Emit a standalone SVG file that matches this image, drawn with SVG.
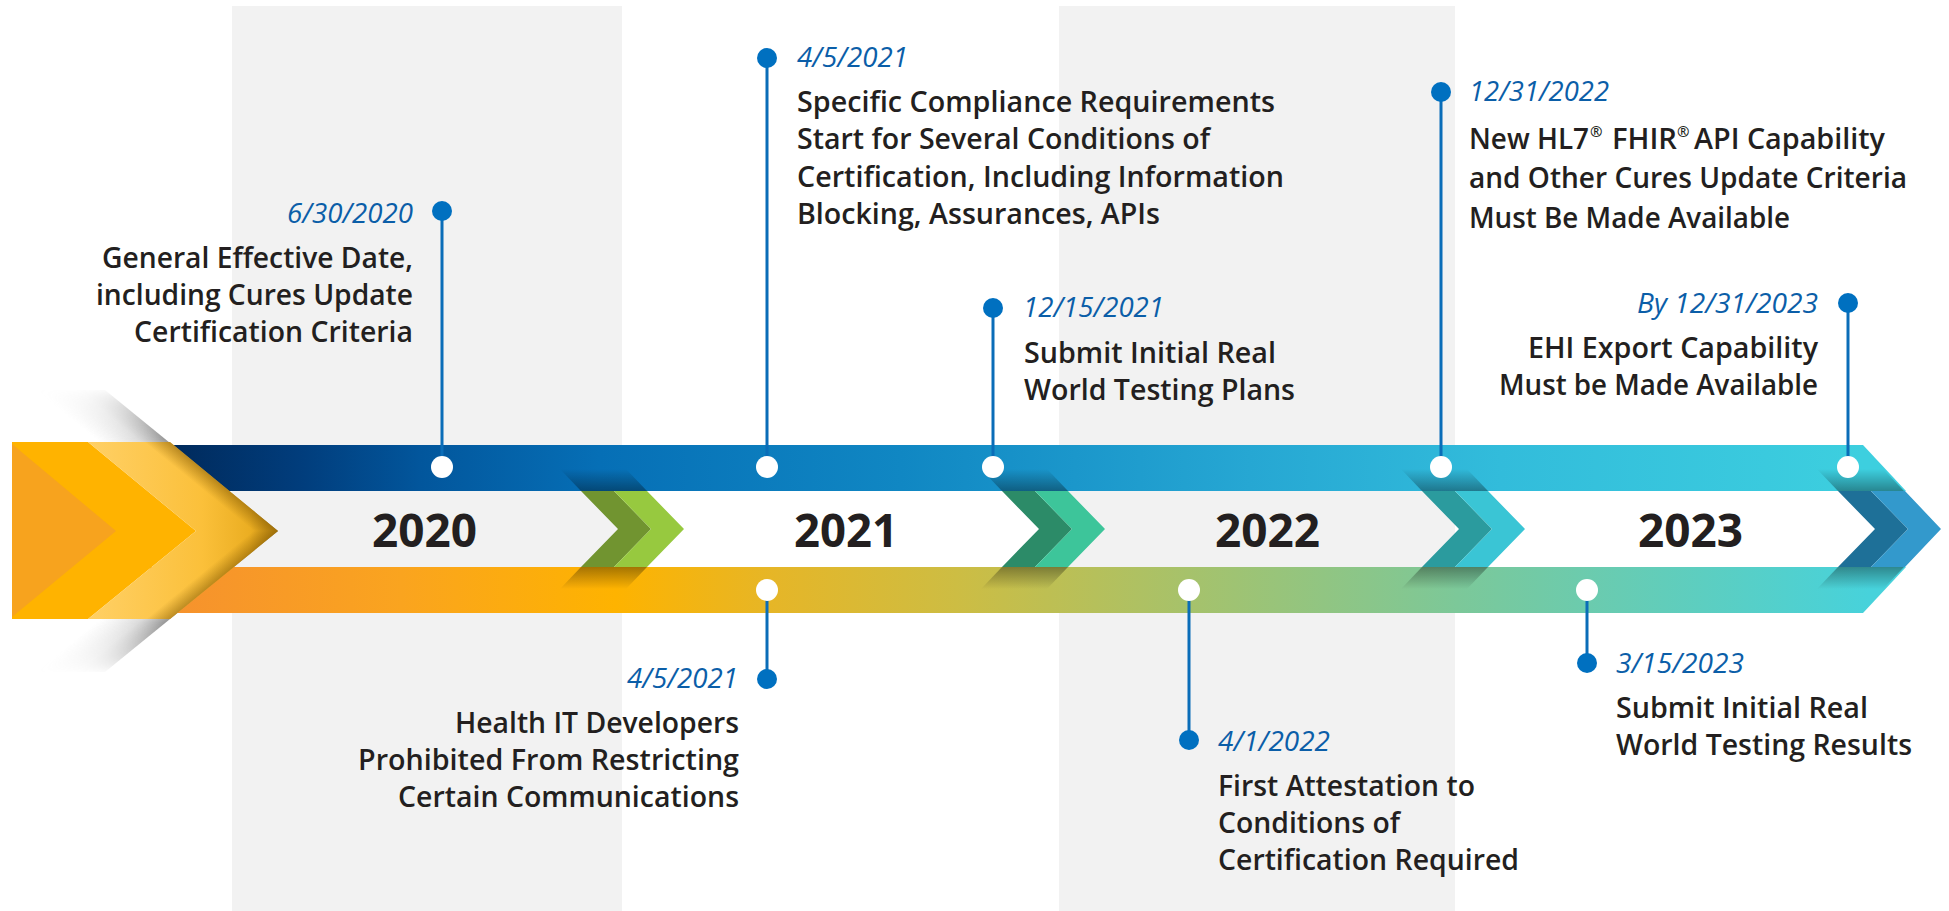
<svg xmlns="http://www.w3.org/2000/svg" width="1949" height="911" viewBox="0 0 1949 911">
<style>
.col{fill:#F2F2F2}
.line{stroke:#0A6DB8;stroke-width:3;fill:none}
.dot{fill:#0070C0}
.hole{fill:#FFFFFF}
.date{font-family:"Open Sans","Noto Sans","Liberation Sans",sans-serif;font-style:italic;font-size:27px;fill:#0B5EA8}
.desc{font-family:"Open Sans","Noto Sans","Liberation Sans",sans-serif;font-weight:600;font-size:29px;fill:#231F20}
.reg{font-family:"Open Sans","Noto Sans","Liberation Sans",sans-serif;font-weight:600;font-size:15px;fill:#231F20}
.year{font-family:"Open Sans","Noto Sans","Liberation Sans",sans-serif;font-weight:700;font-size:46px;fill:#231F20}
</style>
<defs>
<linearGradient id="gTop" gradientUnits="userSpaceOnUse" x1="150" y1="0" x2="1941" y2="0">
<stop offset="0.013" stop-color="#002A5C"/>
<stop offset="0.084" stop-color="#013D7C"/>
<stop offset="0.151" stop-color="#02569C"/>
<stop offset="0.251" stop-color="#066FB6"/>
<stop offset="0.419" stop-color="#1087C3"/>
<stop offset="0.614" stop-color="#26A7D3"/>
<stop offset="0.754" stop-color="#32BCDB"/>
<stop offset="0.956" stop-color="#3DCFDF"/>
</linearGradient>
<linearGradient id="gBot" gradientUnits="userSpaceOnUse" x1="150" y1="0" x2="1941" y2="0">
<stop offset="0.013" stop-color="#F6922D"/>
<stop offset="0.14" stop-color="#FAA41F"/>
<stop offset="0.26" stop-color="#FEB300"/>
<stop offset="0.35" stop-color="#E5B628"/>
<stop offset="0.45" stop-color="#CDBD43"/>
<stop offset="0.58" stop-color="#A6C26B"/>
<stop offset="0.73" stop-color="#7CC899"/>
<stop offset="0.96" stop-color="#47D2DB"/>
</linearGradient>
<linearGradient id="gShU" gradientUnits="userSpaceOnUse" x1="191.5" y1="460.5" x2="163.7" y2="494.6">
<stop offset="0" stop-color="#6A6A6A" stop-opacity="0.7"/>
<stop offset="0.4" stop-color="#8A8A8A" stop-opacity="0.3"/>
<stop offset="1" stop-color="#B0B0B0" stop-opacity="0"/>
</linearGradient>
<linearGradient id="gShL" gradientUnits="userSpaceOnUse" x1="191.5" y1="601.5" x2="163.7" y2="567.4">
<stop offset="0" stop-color="#6A6A6A" stop-opacity="0.7"/>
<stop offset="0.4" stop-color="#8A8A8A" stop-opacity="0.3"/>
<stop offset="1" stop-color="#B0B0B0" stop-opacity="0"/>
</linearGradient>
<linearGradient id="gFade" gradientUnits="userSpaceOnUse" x1="0" y1="388" x2="0" y2="674">
<stop offset="0" stop-color="#fff" stop-opacity="0"/>
<stop offset="0.18" stop-color="#fff" stop-opacity="1"/>
<stop offset="0.82" stop-color="#fff" stop-opacity="1"/>
<stop offset="1" stop-color="#fff" stop-opacity="0"/>
</linearGradient>
<mask id="mShadow" maskUnits="userSpaceOnUse" x="0" y="380" width="300" height="300">
<rect x="0" y="380" width="300" height="300" fill="url(#gFade)"/>
</mask>
<linearGradient id="gLight" gradientUnits="userSpaceOnUse" x1="88" y1="0" x2="278" y2="0">
<stop offset="0" stop-color="#FFD066"/>
<stop offset="0.6" stop-color="#FBC03A"/>
<stop offset="0.85" stop-color="#EBAE22"/>
<stop offset="1" stop-color="#C08A12"/>
</linearGradient>
<linearGradient id="gEdgeU" gradientUnits="userSpaceOnUse" x1="199" y1="486.5" x2="209" y2="474.2">
<stop offset="0" stop-color="#7A5200" stop-opacity="0"/>
<stop offset="1" stop-color="#7A5200" stop-opacity="0.5"/>
</linearGradient>
<linearGradient id="gEdgeL" gradientUnits="userSpaceOnUse" x1="199.6" y1="575" x2="209.7" y2="587.3">
<stop offset="0" stop-color="#7A5200" stop-opacity="0"/>
<stop offset="1" stop-color="#7A5200" stop-opacity="0.5"/>
</linearGradient>
<linearGradient id="gUp" x1="0" y1="0" x2="0" y2="1">
<stop offset="0" stop-color="#000" stop-opacity="0"/>
<stop offset="1" stop-color="#000" stop-opacity="0.35"/>
</linearGradient>
<linearGradient id="gDown" x1="0" y1="1" x2="0" y2="0">
<stop offset="0" stop-color="#000" stop-opacity="0"/>
<stop offset="1" stop-color="#000" stop-opacity="0.35"/>
</linearGradient>
</defs>

<rect width="1949" height="911" fill="#FFFFFF"/>
<g id="columns">
<rect class="col" x="232" y="6" width="390" height="905"/>
<rect class="col" x="1059" y="6" width="396" height="905"/>
</g>

<g id="timeline-arrow">
<g mask="url(#mShadow)">
<polygon points="35,390 105,390 278,531 208,531" fill="url(#gShU)"/>
<polygon points="208,531 278,531 105,672 35,672" fill="url(#gShL)"/>
</g>
<polygon points="150,445 1863,445 1906,491 150,491" fill="url(#gTop)"/>
<polygon points="150,567 1906,567 1863,613 150,613" fill="url(#gBot)"/>
<!-- chevron 1 green -->
<polygon points="560,469 626,469 647,491 581,491" fill="url(#gUp)"/>
<polygon points="581,567 647,567 626,589 560,589" fill="url(#gDown)"/>
<polygon points="581,491 614,491 651,529 614,567 581,567 618,529" fill="#719430"/>
<polygon points="614,491 647,491 684,529 647,567 614,567 651,529" fill="#97C93F"/>
<!-- chevron 2 -->
<polygon points="981,469 1047,469 1068,491 1002,491" fill="url(#gUp)"/>
<polygon points="1002,567 1068,567 1047,589 981,589" fill="url(#gDown)"/>
<polygon points="1002,491 1035,491 1072,529 1035,567 1002,567 1039,529" fill="#2C8B68"/>
<polygon points="1035,491 1068,491 1105,529 1068,567 1035,567 1072,529" fill="#3DC59A"/>
<!-- chevron 3 -->
<polygon points="1401,469 1467,469 1488,491 1422,491" fill="url(#gUp)"/>
<polygon points="1422,567 1488,567 1467,589 1401,589" fill="url(#gDown)"/>
<polygon points="1422,491 1455,491 1492,529 1455,567 1422,567 1459,529" fill="#2B9B9E"/>
<polygon points="1455,491 1488,491 1525,529 1488,567 1455,567 1492,529" fill="#3AC5D5"/>
<!-- chevron 4 -->
<polygon points="1817,469 1883,469 1904,491 1838,491" fill="url(#gUp)"/>
<polygon points="1838,567 1904,567 1883,589 1817,589" fill="url(#gDown)"/>
<polygon points="1838,491 1871,491 1908,529 1871,567 1838,567 1875,529" fill="#1E7098"/>
<polygon points="1871,491 1905,491 1941,529 1905,567 1871,567 1908,529" fill="#3399CC"/>
<!-- left big chevron -->
<polygon points="12,442 88,442 196,531 88,619 12,619" fill="#FFB300"/>
<polygon points="12,444 116,531 12,617" fill="#F7A31E"/>
<polygon points="88,442 170,442 278,531 170,619 88,619 196,531" fill="url(#gLight)"/>
<polygon points="88,442 170,442 278,531 196,531" fill="url(#gEdgeU)"/>
<polygon points="196,531 278,531 170,619 88,619" fill="url(#gEdgeL)"/>
</g>

<g id="years">
<text class="year" x="372" y="547" textLength="105" lengthAdjust="spacingAndGlyphs">2020</text>
<text class="year" x="794" y="547" textLength="104" lengthAdjust="spacingAndGlyphs">2021</text>
<text class="year" x="1215" y="547" textLength="105" lengthAdjust="spacingAndGlyphs">2022</text>
<text class="year" x="1638" y="547" textLength="105" lengthAdjust="spacingAndGlyphs">2023</text>
</g>

<g id="connectors">
<line class="line" x1="442" y1="211" x2="442" y2="467"/>
<line class="line" x1="767" y1="58" x2="767" y2="467"/>
<line class="line" x1="993" y1="308" x2="993" y2="467"/>
<line class="line" x1="1441" y1="92" x2="1441" y2="467"/>
<line class="line" x1="1848" y1="303" x2="1848" y2="467"/>
<line class="line" x1="767" y1="590" x2="767" y2="679"/>
<line class="line" x1="1189" y1="590" x2="1189" y2="740"/>
<line class="line" x1="1587" y1="590" x2="1587" y2="663"/>
</g>

<g id="event-2020-06-30">
<circle class="hole" cx="442" cy="467" r="11"/>
<circle class="dot" cx="442" cy="211" r="10"/>
<text class="date" x="287" y="223" textLength="126" lengthAdjust="spacingAndGlyphs">6/30/2020</text>
<text class="desc" x="102" y="268" textLength="311" lengthAdjust="spacingAndGlyphs">General Effective Date,</text>
<text class="desc" x="96" y="305" textLength="317" lengthAdjust="spacingAndGlyphs">including Cures Update</text>
<text class="desc" x="134" y="342" textLength="279" lengthAdjust="spacingAndGlyphs">Certification Criteria</text>
</g>

<g id="event-2021-04-05-top">
<circle class="hole" cx="767" cy="467" r="11"/>
<circle class="dot" cx="767" cy="58" r="10"/>
<text class="date" x="797" y="67" textLength="111" lengthAdjust="spacingAndGlyphs">4/5/2021</text>
<text class="desc" x="797" y="112" textLength="478" lengthAdjust="spacingAndGlyphs">Specific Compliance Requirements</text>
<text class="desc" x="797" y="149" textLength="413" lengthAdjust="spacingAndGlyphs">Start for Several Conditions of</text>
<text class="desc" x="797" y="187" textLength="487" lengthAdjust="spacingAndGlyphs">Certification, Including Information</text>
<text class="desc" x="797" y="224" textLength="363" lengthAdjust="spacingAndGlyphs">Blocking, Assurances, APIs</text>
</g>

<g id="event-2021-12-15">
<circle class="hole" cx="993" cy="467" r="11"/>
<circle class="dot" cx="993" cy="308" r="10"/>
<text class="date" x="1023" y="317" textLength="141" lengthAdjust="spacingAndGlyphs">12/15/2021</text>
<text class="desc" x="1024" y="363" textLength="252" lengthAdjust="spacingAndGlyphs">Submit Initial Real</text>
<text class="desc" x="1024" y="400" textLength="271" lengthAdjust="spacingAndGlyphs">World Testing Plans</text>
</g>

<g id="event-2022-12-31">
<circle class="hole" cx="1441" cy="467" r="11"/>
<circle class="dot" cx="1441" cy="92" r="10"/>
<text class="date" x="1469" y="101" textLength="140" lengthAdjust="spacingAndGlyphs">12/31/2022</text>
<text class="desc" x="1469" y="149" textLength="120" lengthAdjust="spacingAndGlyphs">New HL7</text>
<text class="reg" x="1590" y="137">®</text>
<text class="desc" x="1612" y="149" textLength="65" lengthAdjust="spacingAndGlyphs">FHIR</text>
<text class="reg" x="1677" y="137">®</text>
<text class="desc" x="1694" y="149" textLength="191" lengthAdjust="spacingAndGlyphs">API Capability</text>
<text class="desc" x="1469" y="188" textLength="438" lengthAdjust="spacingAndGlyphs">and Other Cures Update Criteria</text>
<text class="desc" x="1469" y="228" textLength="321" lengthAdjust="spacingAndGlyphs">Must Be Made Available</text>
</g>

<g id="event-2023-12-31">
<circle class="hole" cx="1848" cy="467" r="11"/>
<circle class="dot" cx="1848" cy="303" r="10"/>
<text class="date" x="1637" y="313" textLength="181" lengthAdjust="spacingAndGlyphs">By 12/31/2023</text>
<text class="desc" x="1528" y="358" textLength="290" lengthAdjust="spacingAndGlyphs">EHI Export Capability</text>
<text class="desc" x="1499" y="395" textLength="319" lengthAdjust="spacingAndGlyphs">Must be Made Available</text>
</g>

<g id="event-2021-04-05-bottom">
<circle class="hole" cx="767" cy="590" r="11"/>
<circle class="dot" cx="767" cy="679" r="10"/>
<text class="date" x="627" y="688" textLength="111" lengthAdjust="spacingAndGlyphs">4/5/2021</text>
<text class="desc" x="455" y="733" textLength="284" lengthAdjust="spacingAndGlyphs">Health IT Developers</text>
<text class="desc" x="358" y="770" textLength="381" lengthAdjust="spacingAndGlyphs">Prohibited From Restricting</text>
<text class="desc" x="398" y="807" textLength="341" lengthAdjust="spacingAndGlyphs">Certain Communications</text>
</g>

<g id="event-2022-04-01">
<circle class="hole" cx="1189" cy="590" r="11"/>
<circle class="dot" cx="1189" cy="740" r="10"/>
<text class="date" x="1218" y="751" textLength="112" lengthAdjust="spacingAndGlyphs">4/1/2022</text>
<text class="desc" x="1218" y="796" textLength="257" lengthAdjust="spacingAndGlyphs">First Attestation to</text>
<text class="desc" x="1218" y="833" textLength="182" lengthAdjust="spacingAndGlyphs">Conditions of</text>
<text class="desc" x="1218" y="870" textLength="301" lengthAdjust="spacingAndGlyphs">Certification Required</text>
</g>

<g id="event-2023-03-15">
<circle class="hole" cx="1587" cy="590" r="11"/>
<circle class="dot" cx="1587" cy="663" r="10"/>
<text class="date" x="1616" y="673" textLength="128" lengthAdjust="spacingAndGlyphs">3/15/2023</text>
<text class="desc" x="1616" y="718" textLength="252" lengthAdjust="spacingAndGlyphs">Submit Initial Real</text>
<text class="desc" x="1616" y="755" textLength="296" lengthAdjust="spacingAndGlyphs">World Testing Results</text>
</g>
</svg>
